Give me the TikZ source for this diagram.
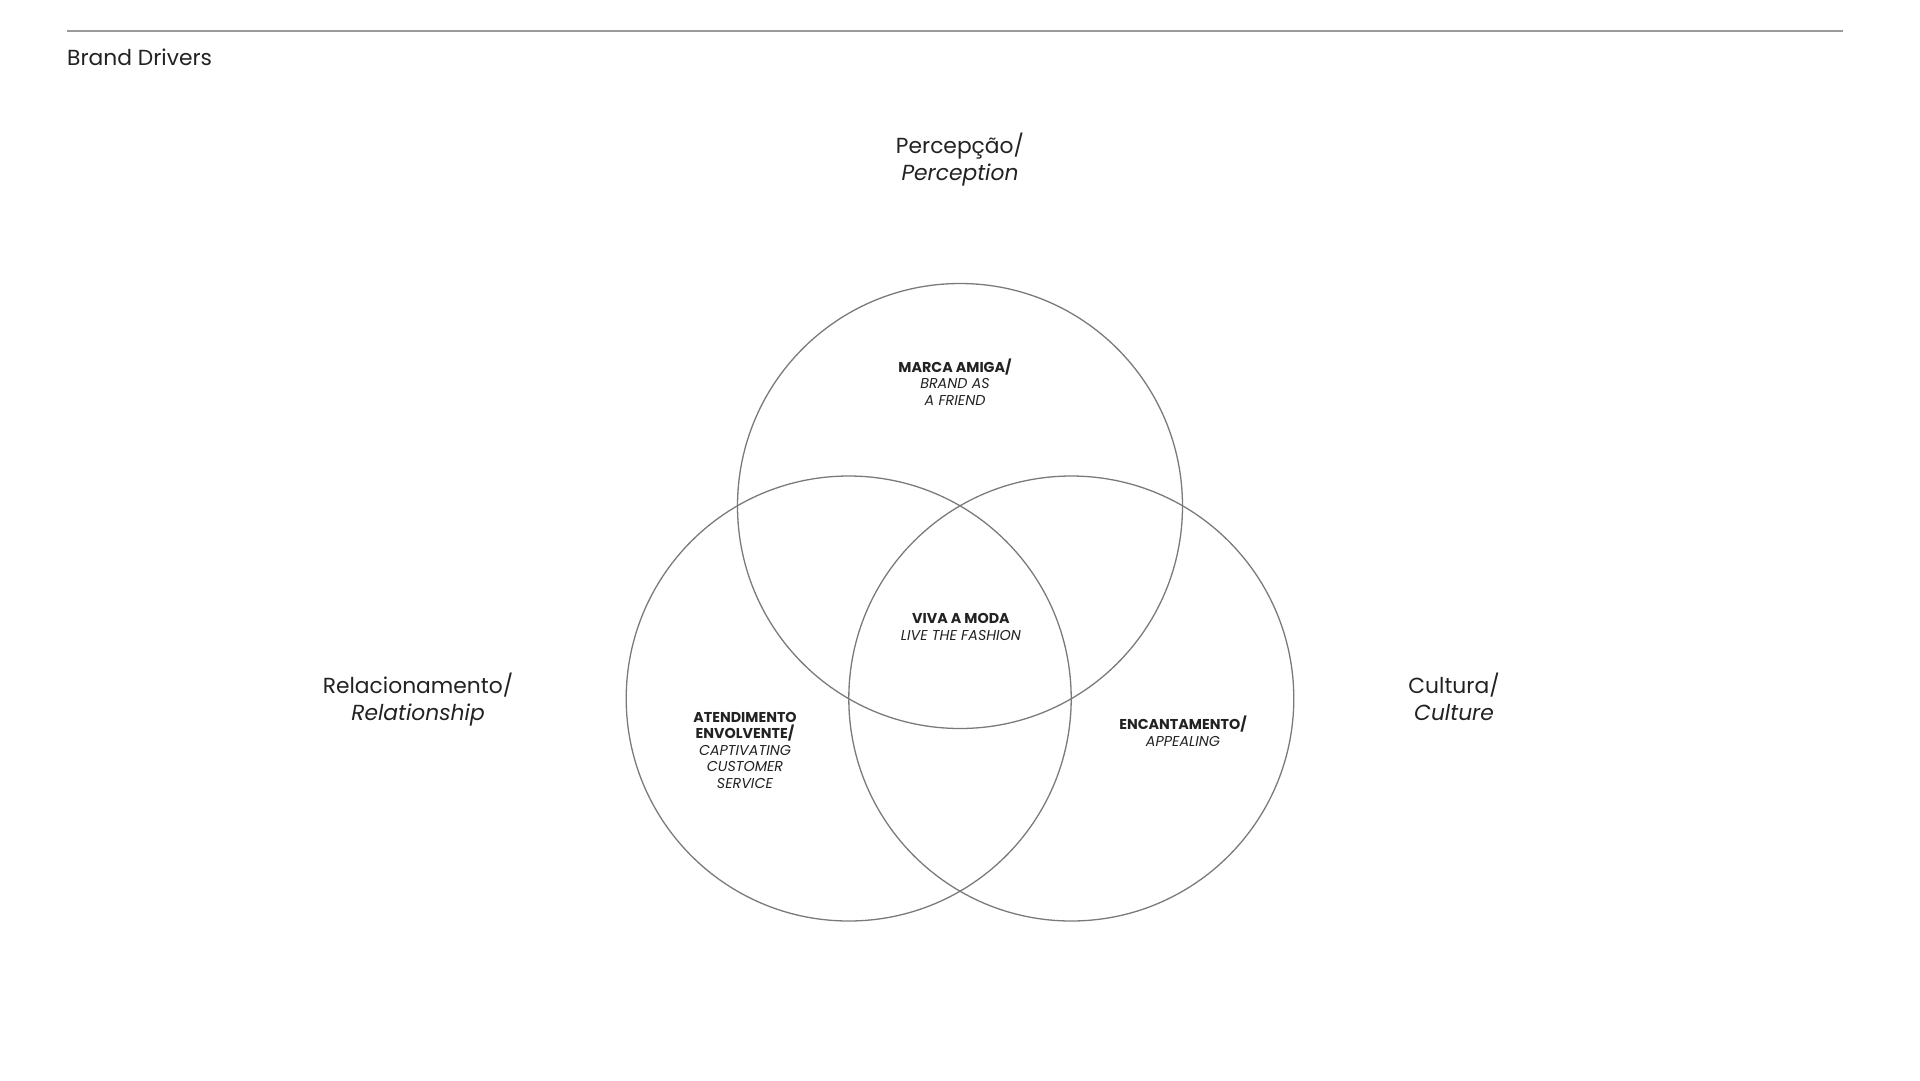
\documentclass[tikz,border=0pt]{standalone}
\usepackage{fontspec}
\setmainfont{Poppins}
\definecolor{ink}{HTML}{222222}
\definecolor{ring}{HTML}{7A7A7A}
\definecolor{rule}{HTML}{9A9A9A}
\begin{document}
\begin{tikzpicture}[x=1pt,y=-1pt,
  ringstyle/.style={draw=ring,line width=1.3pt},
  biglabel/.style={text=ink,inner sep=0pt,anchor=base,align=center,font=\fontsize{21.8}{27}\selectfont},
  smalllabel/.style={text=ink,inner sep=0pt,anchor=base,align=center,font=\fontsize{14.3}{16.5}\selectfont},
  titlelabel/.style={text=ink,inner sep=0pt,anchor=base west,font=\fontsize{21.8}{26}\selectfont}]
\useasboundingbox (0,0) rectangle (1920,1080);
\coordinate (ruleL) at (67,31);
\coordinate (ruleR) at (1843,31);
\draw[draw=rule,line width=1.8pt] (ruleL) -- (ruleR);
\node[titlelabel] (title) at (67,65) {Brand Drivers};
% circles
\coordinate (ctop) at (960,506);
\coordinate (cleft) at (848.7,698.5);
\coordinate (cright) at (1071.3,698.5);
\draw[ringstyle] (ctop) circle[radius=222.5];
\draw[ringstyle] (cleft) circle[radius=222.5];
\draw[ringstyle] (cright) circle[radius=222.5];
% outer labels (anchor = baseline of last line)
\node[biglabel] (perc) at (960,180.5) {Percepção/\\\textit{Perception}};
\node[biglabel] (rel) at (418,720) {Relacionamento/\\\textit{Relationship}};
\node[biglabel] (cult) at (1454,720) {Cultura/\\\textit{Culture}};
% inner labels
\node[smalllabel] (marca) at (955,405) {\textbf{MARCA AMIGA/}\\\textit{BRAND AS}\\\textit{A FRIEND}};
\node[smalllabel] (viva) at (961,640) {\textbf{VIVA A MODA}\\\textit{LIVE THE FASHION}};
\node[smalllabel] (aten) at (745,788) {\textbf{ATENDIMENTO}\\\textbf{ENVOLVENTE/}\\\textit{CAPTIVATING}\\\textit{CUSTOMER}\\\textit{SERVICE}};
\node[smalllabel] (enc) at (1183,746) {\textbf{ENCANTAMENTO/}\\\textit{APPEALING}};
\end{tikzpicture}
\end{document}
